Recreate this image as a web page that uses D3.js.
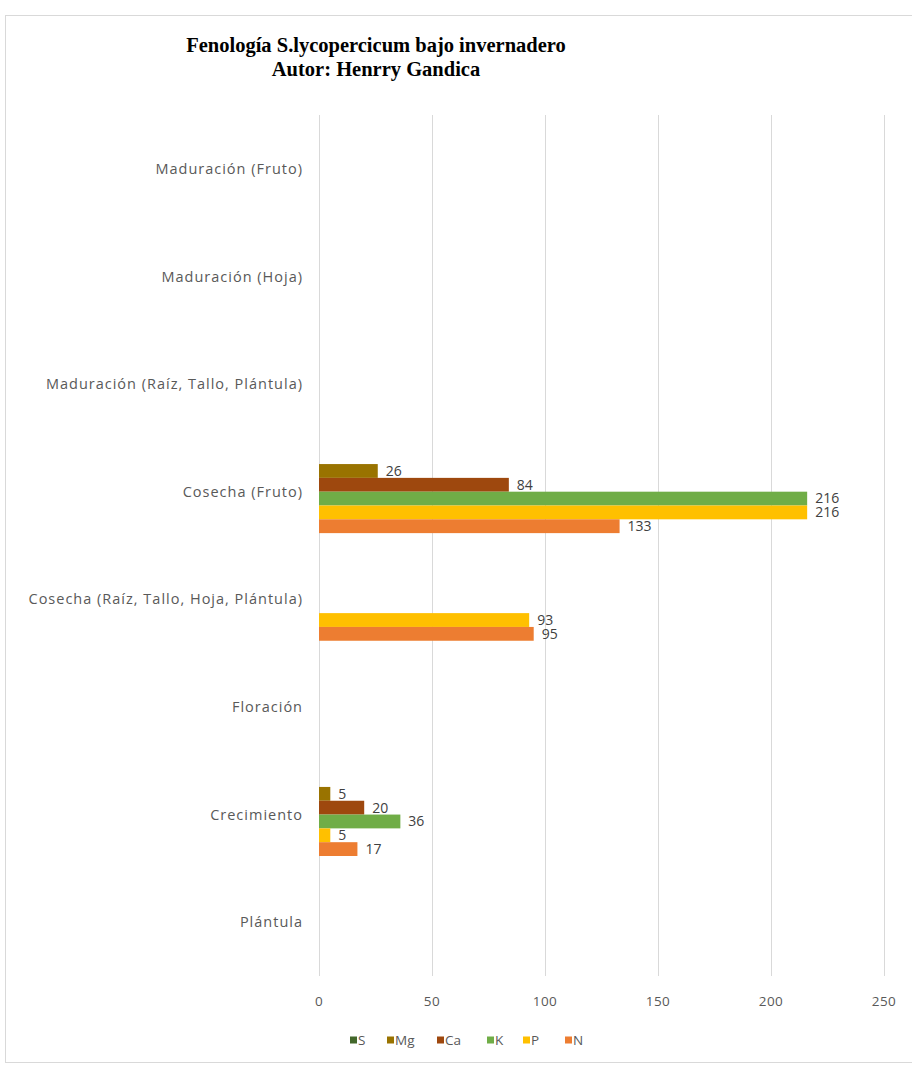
<!DOCTYPE html>
<html lang="es">
<head>
<meta charset="utf-8">
<title>Fenología S.lycopercicum bajo invernadero</title>
<script src="https://cdn.jsdelivr.net/npm/d3@7"></script>
<style>
  body { margin: 0; background: #fff; }
  .cat, .tick-lbl, .lbl, .leg { font-family: "Open Sans", "Liberation Sans", sans-serif; }
</style>
</head>
<body>
<script>
// categories from bottom to top, as the chart shows them
var categories = [
  "Plántula",
  "Crecimiento",
  "Floración",
  "Cosecha (Raíz, Tallo, Hoja, Plántula)",
  "Cosecha (Fruto)",
  "Maduración (Raíz, Tallo, Plántula)",
  "Maduración (Hoja)",
  "Maduración (Fruto)"
];
var seriesNames = ["S", "Mg", "Ca", "K", "P", "N"];
var seriesColors = ["#43682b", "#997300", "#9e480e", "#70ad47", "#ffc000", "#ed7d31"];

// values per series (null = no bar)
var S  = [null, null, null, null, null, null, null, null];
var Mg = [null, 5,    null, null, 26,   null, null, null];
var Ca = [null, 20,   null, null, 84,   null, null, null];
var K  = [null, 36,   null, null, 216,  null, null, null];
var P  = [null, 5,    null, 93,   216,  null, null, null];
var N  = [null, 17,   null, 95,   133,  null, null, null];
var seriesValues = [S, Mg, Ca, K, P, N];

var xTicks = [0, 50, 100, 150, 200, 250];

var w = 912, h = 1066;
var plotLeft = 319, plotRight = 884, plotTop = 115, plotBottom = 976;

var svg = d3.select("body").append("svg")
  .attr("width", w).attr("height", h);

// chart frame
svg.append("rect")
  .attr("x", 5.5).attr("y", 15.5)
  .attr("width", 1000).attr("height", 1047)
  .attr("fill", "#fff")
  .attr("stroke", "#d9d9d9");

// title
var title = svg.append("text")
  .attr("x", 376).attr("y", 52)
  .attr("text-anchor", "middle")
  .style("font-family", "'Liberation Serif', 'Times New Roman', serif")
  .style("font-weight", "bold")
  .style("font-size", "20.5px")
  .attr("fill", "#000");
title.append("tspan").attr("x", 376).attr("dy", 0).text("Fenología S.lycopercicum bajo invernadero");
title.append("tspan").attr("x", 376).attr("dy", 24).text("Autor: Henrry Gandica");

var x = d3.scaleLinear().domain([0, 250]).range([plotLeft, plotRight]);
var y = d3.scaleBand().domain(categories).range([plotBottom, plotTop])
  .paddingInner(0.23).paddingOuter(0.115);
var ys = d3.scaleBand().domain(seriesNames).range([0, y.bandwidth()]);

// gridlines
svg.append("g").selectAll("line")
  .data(xTicks)
  .enter().append("line")
  .attr("x1", function(d) { return x(d) + 0.5; })
  .attr("x2", function(d) { return x(d) + 0.5; })
  .attr("y1", plotTop).attr("y2", plotBottom)
  .attr("stroke", "#d9d9d9");

// x tick labels
svg.append("g").selectAll("text")
  .data(xTicks)
  .enter().append("text")
  .attr("class", "tick-lbl")
  .attr("x", function(d) { return x(d); })
  .attr("y", 1006)
  .attr("text-anchor", "middle")
  .attr("fill", "#595959")
  .style("font-size", "13.5px")
  .style("letter-spacing", "0.5px")
  .text(function(d) { return d; });

// category labels
svg.append("g").selectAll("text")
  .data(categories)
  .enter().append("text")
  .attr("class", "cat")
  .attr("x", 303)
  .attr("y", function(d) { return y(d) + y.bandwidth() / 2; })
  .attr("dy", "0.35em")
  .attr("text-anchor", "end")
  .attr("fill", "#595959")
  .style("font-size", "14.5px")
  .style("letter-spacing", "1px")
  .text(function(d) { return d; });

// bars
var bars = [];
seriesValues.forEach(function(vals, si) {
  vals.forEach(function(v, ci) {
    if (v != null) bars.push({ s: seriesNames[si], c: categories[ci], v: v, color: seriesColors[si] });
  });
});

var g = svg.append("g");
g.selectAll("rect")
  .data(bars)
  .enter().append("rect")
  .attr("x", x(0))
  .attr("y", function(d) { return y(d.c) + ys(d.s); })
  .attr("width", function(d) { return x(d.v) - x(0); })
  .attr("height", ys.bandwidth())
  .attr("fill", function(d) { return d.color; });

g.selectAll("text")
  .data(bars)
  .enter().append("text")
  .attr("class", "lbl")
  .attr("x", function(d) { return x(d.v) + 8; })
  .attr("y", function(d) { return y(d.c) + ys(d.s) + ys.bandwidth() / 2; })
  .attr("dy", "0.35em")
  .attr("fill", "#404040")
  .style("font-size", "14px")
  .text(function(d) { return d.v; });

// legend
var leg = svg.append("g").attr("transform", "translate(350,1040)");
var legX = [0, 37, 87, 137, 173, 215];
seriesNames.forEach(function(name, i) {
  var item = leg.append("g").attr("transform", "translate(" + legX[i] + ",0)");
  item.append("rect")
    .attr("x", 0).attr("y", -3.5)
    .attr("width", 7).attr("height", 7)
    .attr("fill", seriesColors[i]);
  item.append("text")
    .attr("class", "leg")
    .attr("x", 8).attr("y", 0)
    .attr("dy", "0.35em")
    .attr("fill", "#595959")
    .style("font-size", "13.5px")
    .text(name);
});
</script>
</body>
</html>
